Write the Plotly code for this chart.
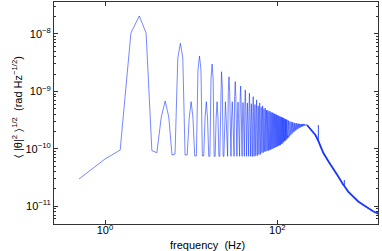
import numpy as np
import plotly.graph_objects as go

# ---------------- data ----------------
# individually resolved points at low frequency (0.5 Hz resolution)
low_freq = [0.5, 1.0, 1.5, 2.0, 2.5, 3.0, 3.5, 4.0, 4.5, 5.0,
            5.5, 6.0, 6.5, 7.0, 7.5, 8.0, 8.5, 9.0, 9.5, 10.0,
            10.5, 11.0, 11.5, 12.0, 12.5, 13.0, 13.5, 14.0, 14.5]
low_psd = [2.98e-11, 6.64e-11, 9.5e-11, 1.04e-8, 2.06e-8, 1.04e-8, 9.3e-11, 8.55e-11, 3.58e-10, 6.8e-10,
           3.58e-10, 7.8e-11, 8.1e-11, 3.82e-9, 6.89e-9, 3.82e-9, 7.8e-11, 7.8e-11, 3.44e-10, 6.62e-10,
           3.44e-10, 7.5e-11, 7.5e-11, 2.36e-9, 4.14e-9, 2.36e-9, 7.5e-11, 7.5e-11, 3.44e-10]

# comb region: one entry per 5-Hz period (period starts at 15, 20, ... 215 Hz)
comb_start = [15, 20, 25, 30, 35, 40, 45, 50, 55, 60, 65, 70, 75, 80, 85, 90, 95, 100, 105, 110,
              115, 120, 125, 130, 135, 140, 145, 150, 155, 160, 165, 170, 175, 180, 185, 190, 195,
              200, 205, 210, 215]
# harmonic at the period start (even multiple of 2.5 Hz)
even_peak = [6.6e-10, 6.6e-10, 6.6e-10, 6.6e-10, 6.5e-10, 6.4e-10, 6.3e-10, 6.1e-10, 5.9e-10, 5.6e-10,
             5.3e-10, 5.0e-10, 4.7e-10, 4.5e-10, 4.3e-10, 4.15e-10, 4.0e-10, 3.85e-10, 3.7e-10, 3.6e-10,
             3.5e-10, 3.4e-10, 3.3e-10, 3.2e-10, 3.1e-10, 3.0e-10, 2.95e-10, 2.9e-10, 2.85e-10, 2.8e-10,
             2.8e-10, 2.75e-10, 2.75e-10, 2.7e-10, 2.7e-10, 2.7e-10, 2.7e-10, 2.7e-10, 2.7e-10, 2.65e-10,
             2.65e-10]
# harmonic in the middle of the period (odd multiple of 2.5 Hz)
odd_peak = [3.0e-9, 2.2e-9, 1.8e-9, 1.48e-9, 1.24e-9, 1.06e-9, 9.3e-10, 8.1e-10, 7.1e-10, 6.3e-10,
            5.6e-10, 5.1e-10, 4.7e-10, 4.5e-10, 4.3e-10, 4.1e-10, 3.95e-10, 3.8e-10, 3.65e-10, 3.55e-10,
            3.45e-10, 3.3e-10, 3.2e-10, 3.1e-10, 3.0e-10, 2.95e-10, 2.9e-10, 2.85e-10, 2.8e-10, 2.8e-10,
            2.75e-10, 2.75e-10, 2.75e-10, 2.7e-10, 2.7e-10, 2.7e-10, 2.7e-10, 2.7e-10, 2.7e-10, 2.65e-10,
            2.65e-10]
# level between the harmonics
floor_level = [7.4e-11, 7.4e-11, 7.4e-11, 7.4e-11, 7.4e-11, 7.4e-11, 7.4e-11, 7.4e-11, 7.6e-11, 8.0e-11,
               8.6e-11, 9.0e-11, 9.3e-11, 9.6e-11, 1.0e-10, 1.04e-10, 1.08e-10, 1.12e-10, 1.16e-10, 1.22e-10,
               1.3e-10, 1.38e-10, 1.45e-10, 1.55e-10, 1.65e-10, 1.75e-10, 1.85e-10, 1.95e-10, 2.02e-10, 2.1e-10,
               2.17e-10, 2.23e-10, 2.3e-10, 2.35e-10, 2.4e-10, 2.44e-10, 2.48e-10, 2.52e-10, 2.55e-10, 2.57e-10,
               2.58e-10]
# neighbouring bins of a harmonic, relative to its peak
shoulder_odd = 0.55
shoulder_even = 0.52

# high-frequency roll-off (with two narrow lines at 300 and 600 Hz)
tail_freq = [221, 240, 277, 299.5, 300, 300.5, 316, 343, 390, 448, 510, 585, 599.5, 600, 600.5,
             665, 765, 870, 1000, 1140, 1306, 1535]
tail_psd = [2.60e-10, 2.27e-10, 1.74e-10, 1.37e-10, 2.6e-10, 1.37e-10, 1.10e-10, 8.45e-11, 6.13e-11,
            4.54e-11, 3.29e-11, 2.34e-11, 2.25e-11, 2.86e-11, 2.25e-11, 1.80e-11, 1.45e-11, 1.21e-11,
            1.05e-11, 9.1e-12, 8.1e-12, 7.3e-12]
spike_freq = [300, 600]

y_tick_vals = [1e-11, 1e-10, 1e-9, 1e-8]
y_tick_text = ["10<sup>\u221211</sup>", "10<sup>\u221210</sup>", "10<sup>\u22129</sup>", "10<sup>\u22128</sup>"]
x_tick_vals = [1, 100]
x_tick_text = ["10<sup>0</sup>", "10<sup>2</sup>"]

# ---------------- build the comb series ----------------
comb_f, comb_v = [], []
n = len(comb_start)
for i, f0 in enumerate(comb_start):
    E, O, F = even_peak[i], odd_peak[i], floor_level[i]
    En = even_peak[i + 1] if i + 1 < n else E
    comb_f += [f0 + 0.5 * j for j in range(10)]
    comb_v += [E, max(shoulder_even * E, F), F, F, max(shoulder_odd * O, F), O,
               max(shoulder_odd * O, F), F, F, max(shoulder_even * En, F)]

main_f = low_freq + comb_f + tail_freq
main_v = low_psd + comb_v + tail_psd
# the broad roll-off is drawn a little heavier (dense, noisy data in the original)
thick_f = [f for f in tail_freq if f not in spike_freq]
thick_v = [v for f, v in zip(tail_freq, tail_psd) if f not in spike_freq]

line_col = "rgb(25,55,255)"

fig = go.Figure()
fig.add_trace(go.Scatter(x=main_f, y=main_v, mode="lines",
                         line=dict(color=line_col, width=0.6), showlegend=False))
fig.add_trace(go.Scatter(x=thick_f, y=thick_v, mode="lines",
                         line=dict(color=line_col, width=1.8), showlegend=False))

minor_y = [k * 10.0 ** e for e in range(-12, -7) for k in range(2, 10)]

axis_common = dict(showline=True, linecolor="#333", linewidth=1, mirror="ticks",
                   ticks="inside", tickcolor="#333", showgrid=False, zeroline=False,
                   automargin=False,
                   tickfont=dict(family="Liberation Sans, Arial", size=11, color="black"))

fig.update_xaxes(type="log", range=[-0.592, 3.169], tickvals=x_tick_vals, ticktext=x_tick_text,
                 ticklen=4, ticklabelstandoff=-4, **axis_common)
fig.update_yaxes(type="log", range=[-11.31, -7.443], tickvals=y_tick_vals, ticktext=y_tick_text,
                 ticklen=4,
                 minor=dict(tickvals=minor_y, ticks="inside", ticklen=2, tickcolor="#333", showgrid=False),
                 **axis_common)

fig.update_layout(
    template="none",
    width=382, height=251,
    margin=dict(l=54, r=4, t=2, b=27),
    paper_bgcolor="white", plot_bgcolor="white",
    font=dict(family="Liberation Sans, Arial", size=11, color="black"),
    annotations=[
        dict(text="frequency\u00a0\u00a0(Hz)", xref="paper", yref="paper", x=0.475, y=-0.095,
             xanchor="center", yanchor="middle", showarrow=False, font=dict(size=11)),
        dict(text="\u2329\u00a0|\u03b8|<sup>2</sup>\u00a0\u232a<sup>1/2</sup>\u00a0\u00a0(rad\u00a0Hz<sup>\u22121/2</sup>)",
             xref="paper", yref="paper", x=-0.114, y=0.527, textangle=-90,
             xanchor="center", yanchor="middle", showarrow=False, font=dict(size=11)),
    ],
)

fig.write_html("out.html", config={"displayModeBar": False, "staticPlot": True},
               post_script="document.body.style.margin='0';document.body.style.padding='0';"
                           "document.body.style.overflow='hidden';")
